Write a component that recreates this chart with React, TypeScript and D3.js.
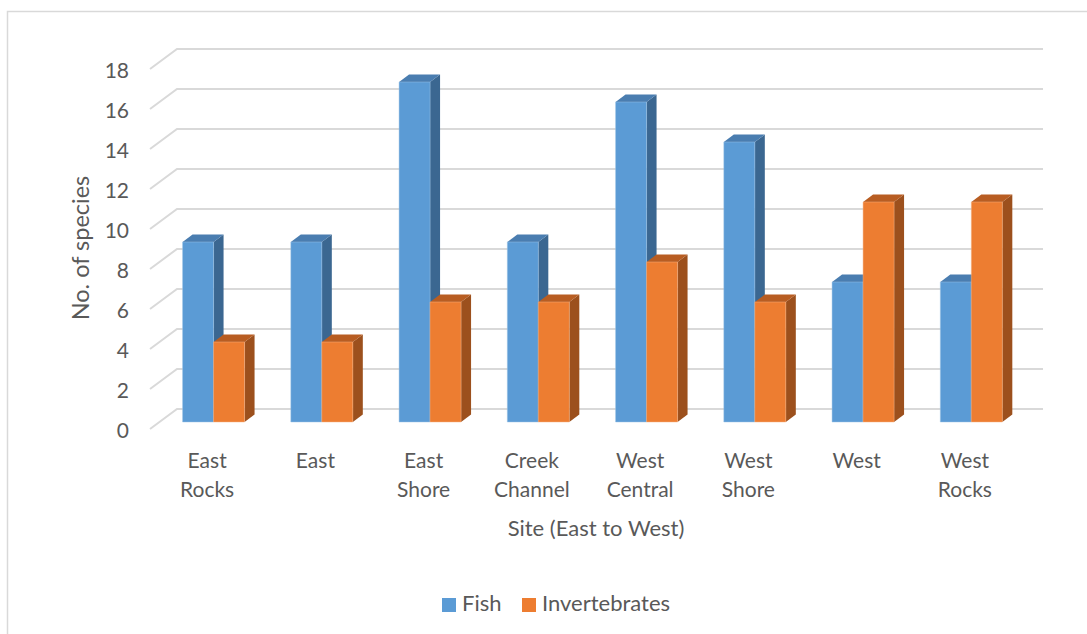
import React from "react";
import * as d3 from "d3";

const categories = [
  ["East", "Rocks"],
  ["East"],
  ["East", "Shore"],
  ["Creek", "Channel"],
  ["West", "Central"],
  ["West", "Shore"],
  ["West"],
  ["West", "Rocks"],
];
const fish = [9, 9, 17, 9, 16, 14, 7, 7];
const invertebrates = [4, 4, 6, 6, 8, 6, 11, 11];
const yTicks = [0, 2, 4, 6, 8, 10, 12, 14, 16, 18];
const seriesNames = ["Fish", "Invertebrates"];

const W = 1087;
const H = 634;
const FONT = "Lato, 'Open Sans', sans-serif";
const TEXT = "#595959";
const GRID = "#d9d9d9";

// depth projection: depth d in [0,1], 0=front, 1=back wall
const DX = 27;
const DY = -20;
const D0 = 0.35;
const D1 = 0.72;

const colors = [
  { front: "#5b9bd5", side: "#3b6791", top: "#4a7db0", edge: "#9dc3e6" },
  { front: "#ed7d31", side: "#9c501d", top: "#b85d22", edge: "#f4b183" },
];

export default function App() {
  const y = d3.scaleLinear().domain([0, 18]).range([429, 69]);
  const x = d3
    .scaleBand<number>()
    .domain(d3.range(categories.length))
    .range([150, 1016])
    .paddingInner(0)
    .paddingOuter(0);
  const bw = x.bandwidth();
  const barW = 31;
  const groupOffset = (bw - 2 * barW) / 2;
  const P = (u: number, v: number, d: number) => [u + DX * d, y(v) + DY * d];
  const pts = (arr: number[][]) => arr.map((p) => p.join(",")).join(" ");

  const bars: React.ReactNode[] = [];
  categories.forEach((_, i) => {
    [fish[i], invertebrates[i]].forEach((val, s) => {
      const u0 = (x(i) as number) + groupOffset + s * barW;
      const u1 = u0 + barW;
      const c = colors[s];
      const f00 = P(u0, 0, D0), f10 = P(u1, 0, D0), f11 = P(u1, val, D0), f01 = P(u0, val, D0);
      const b10 = P(u1, 0, D1), b11 = P(u1, val, D1), b01 = P(u0, val, D1);
      bars.push(
        <g key={`${i}-${s}`}>
          <polygon points={pts([f10, b10, b11, f11])} fill={c.side} />
          <polygon points={pts([f01, f11, b11, b01])} fill={c.top} />
          <polygon points={pts([f00, f10, f11, f01])} fill={c.front} stroke={c.edge} strokeWidth={0.8} strokeOpacity={0.6} />
        </g>
      );
    });
  });

  return (
    <svg width={W} height={H} style={{ position: "absolute", left: 0, top: 0, background: "#fff" }} fontFamily={FONT}>
      <rect x={7.5} y={11.5} width={1200} height={700} fill="#fff" stroke={GRID} strokeWidth={1.5} />
      {yTicks.map((t) => {
        const a = P(150, t, 0);
        const b = P(150, t, 1);
        const c = P(1016, t, 1);
        return (
          <g key={t}>
            <polyline points={pts([a, b, c])} fill="none" stroke={GRID} strokeWidth={2} />
            <text x={129} y={a[1]} textAnchor="end" dominantBaseline="central" fontSize={21} fill={TEXT}>
              {t}
            </text>
          </g>
        );
      })}
      {bars}
      {categories.map((lines, i) => (
        <text key={i} x={(x(i) as number) + bw / 2 + 3} y={468} textAnchor="middle" fontSize={21} fill={TEXT}>
          {lines.map((l, k) => (
            <tspan key={k} x={(x(i) as number) + bw / 2 + 3} dy={k === 0 ? 0 : 29}>
              {l}
            </tspan>
          ))}
        </text>
      ))}
      <text x={596} y={536} textAnchor="middle" fontSize={22} fill={TEXT}>
        Site (East to West)
      </text>
      <text transform="translate(89,248) rotate(-90)" textAnchor="middle" fontSize={23.5} fill={TEXT}>
        No. of species
      </text>
      <rect x={442} y={598} width={14} height={14} fill={colors[0].front} />
      <text x={462} y={611} fontSize={22} fill={TEXT}>{seriesNames[0]}</text>
      <rect x={522} y={598} width={14} height={14} fill={colors[1].front} />
      <text x={542} y={611} fontSize={22} fill={TEXT}>{seriesNames[1]}</text>
    </svg>
  );
}
